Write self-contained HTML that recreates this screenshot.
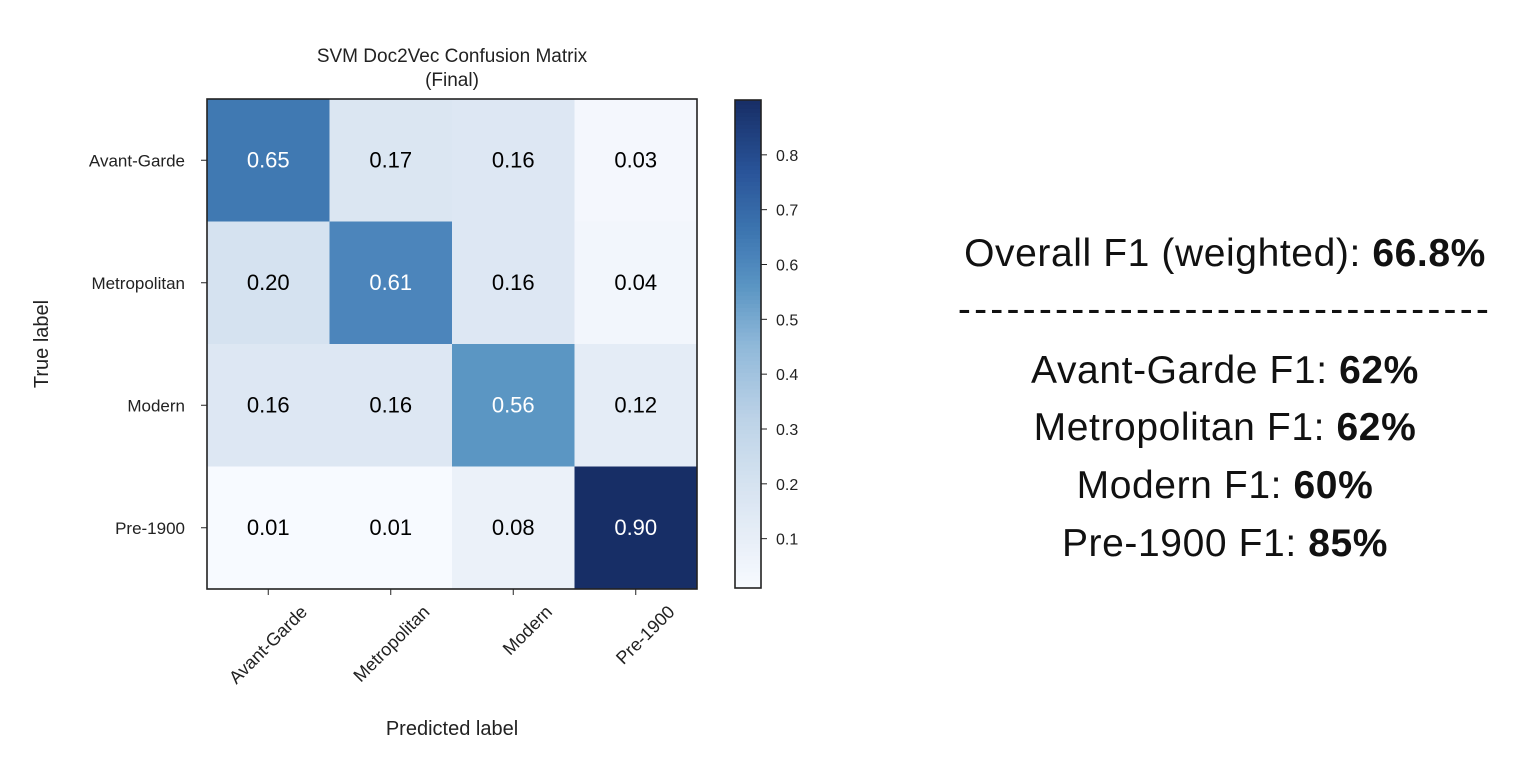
<!DOCTYPE html>
<html><head><meta charset="utf-8"><style>
body{margin:0;background:#fff;width:1536px;height:768px;overflow:hidden;font-family:"Liberation Sans",sans-serif}
#rt{position:absolute;left:925px;width:600px;text-align:center;color:#111;font-size:39px}
#rt div{position:absolute;left:0;width:600px;line-height:44px;letter-spacing:0.6px}
</style></head><body>
<svg id="chart" width="900" height="768" style="position:absolute;left:0;top:0" font-family="Liberation Sans, sans-serif"></svg>
<div id="rt">
<div style="top:232px">Overall F1 (weighted): <b>66.8%</b></div>
<div style="top:288px;letter-spacing:3.2px">---------------------------------</div>
<div style="top:349px">Avant-Garde F1: <b>62%</b></div>
<div style="top:406px">Metropolitan F1: <b>62%</b></div>
<div style="top:464px">Modern F1: <b>60%</b></div>
<div style="top:522px">Pre-1900 F1: <b>85%</b></div>
</div>
<script>
const categories=["Avant-Garde","Metropolitan","Modern","Pre-1900"];
const row0=[0.65,0.17,0.16,0.03];
const row1=[0.20,0.61,0.16,0.04];
const row2=[0.16,0.16,0.56,0.12];
const row3=[0.01,0.01,0.08,0.90];
const cbTicks=[0.1,0.2,0.3,0.4,0.5,0.6,0.7,0.8];
const rows=[row0,row1,row2,row3];
const NS="http://www.w3.org/2000/svg";
const svg=document.getElementById('chart');
function mk(t,a,p){const e=document.createElementNS(NS,t);for(const k in a)e.setAttribute(k,a[k]);(p||svg).appendChild(e);return e;}
const L=207,T=99,W=490,H=490,n=categories.length,cw=W/n,ch=H/n;
const all=rows.flat(),vmin=Math.min(...all),vmax=Math.max(...all);
const stops=[[0,"#f7faff"],[0.08,"#ebf1f9"],[0.2,"#d8e4f1"],[0.35,"#bcd2e7"],[0.5,"#8fb8d9"],[0.62,"#5a95c3"],[0.68,"#4a83ba"],[0.73,"#3d76b0"],[0.85,"#2a559a"],[1,"#172e66"]];
function hex(h){return [1,3,5].map(i=>parseInt(h.substr(i,2),16));}
function color(v){let t=(v-vmin)/(vmax-vmin);t=Math.max(0,Math.min(1,t));let i=0;while(i<stops.length-2&&t>stops[i+1][0])i++;const f=(t-stops[i][0])/(stops[i+1][0]-stops[i][0]);const a=hex(stops[i][1]),b=hex(stops[i+1][1]);return `rgb(${a.map((x,k)=>Math.round(x+(b[k]-x)*f)).join(',')})`;}
const xs=j=>L+j*cw, ys=i=>T+i*ch;
rows.forEach((r,i)=>r.forEach((v,j)=>{
 const c=mk('rect',{x:xs(j),y:ys(i),width:cw+0.5,height:ch+0.5,fill:color(v)});
 
 
 const t=mk('text',{x:xs(j)+cw/2,y:ys(i)+ch/2+7,'text-anchor':'middle','font-size':22,fill:v>(vmax+vmin)/2*0.9?'#fff':'#000'});
 t.textContent=v.toFixed(2);
 
 
}));
mk('rect',{x:L,y:T,width:W,height:H,fill:'none',stroke:'#222','stroke-width':1.6});
categories.forEach((c,i)=>{
 mk('line',{x1:L-6,x2:L,y1:ys(i)+ch/2,y2:ys(i)+ch/2,stroke:'#222'});
 const t=mk('text',{x:L-22,y:ys(i)+ch/2+6,'text-anchor':'end','font-size':17,fill:'#222'});t.textContent=c;
 
 
 const x=xs(i)+cw/2;
 mk('line',{x1:x,x2:x,y1:T+H,y2:T+H+6,stroke:'#222'});
 const u=mk('text',{x:x+40,y:T+H+24,'text-anchor':'end','font-size':18,fill:'#222',transform:`rotate(-45 ${x+40} ${T+H+24})`});u.textContent=c;
 
 
});
let t1=mk('text',{x:L+W/2,y:62,'text-anchor':'middle','font-size':19,fill:'#222'});t1.textContent='SVM Doc2Vec Confusion Matrix';

let t2=mk('text',{x:L+W/2,y:86,'text-anchor':'middle','font-size':19,fill:'#222'});t2.textContent='(Final)';

let xl=mk('text',{x:L+W/2,y:735,'text-anchor':'middle','font-size':20,fill:'#222'});xl.textContent='Predicted label';

let yl=mk('text',{x:48,y:T+H/2,'text-anchor':'middle','font-size':20,fill:'#222',transform:`rotate(-90 48 ${T+H/2})`});yl.textContent='True label';

const CX=735,CW=26,CT=100,CB=588;
const cbY=v=>CB-(v-vmin)/(vmax-vmin)*(CB-CT);
const g=mk('g',{});
for(let k=0;k<120;k++){const v0=vmin+(vmax-vmin)*k/120,v1=vmin+(vmax-vmin)*(k+1)/120;mk('rect',{x:CX,y:cbY(v1),width:CW,height:cbY(v0)-cbY(v1)+0.6,fill:color((v0+v1)/2)},g);}
mk('rect',{x:CX,y:CT,width:CW,height:CB-CT,fill:'none',stroke:'#222','stroke-width':1.6});
cbTicks.forEach(v=>{const y=cbY(v);mk('line',{x1:CX+CW,x2:CX+CW+6,y1:y,y2:y,stroke:'#222'});
 const t=mk('text',{x:CX+CW+15,y:y+6,'font-size':16,fill:'#222'});t.textContent=v.toFixed(1);
 });
</script>
</body></html>
